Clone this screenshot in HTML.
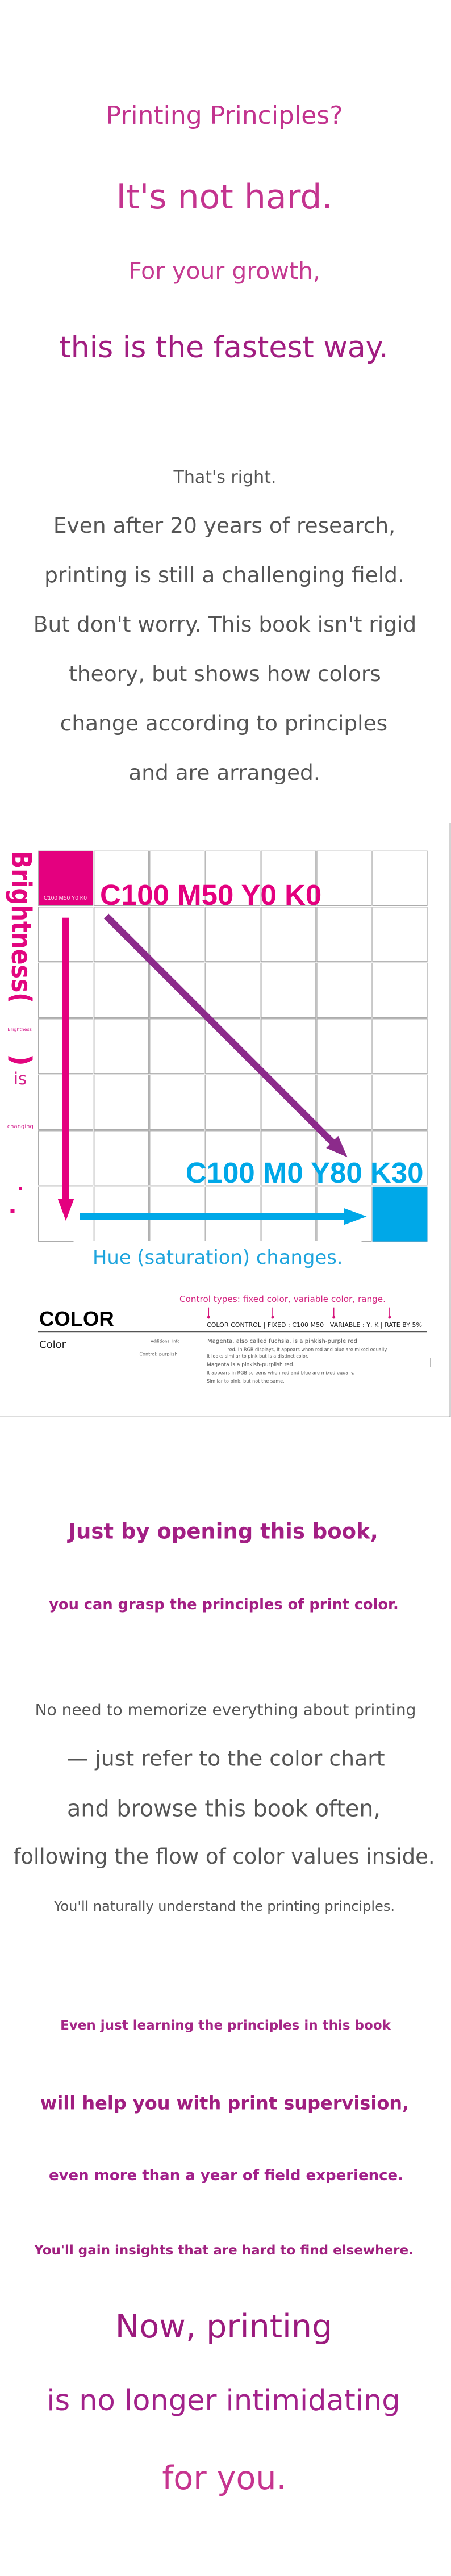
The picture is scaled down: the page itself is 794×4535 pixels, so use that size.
<!DOCTYPE html>
<html>
<head>
<meta charset="utf-8">
<style>
  html, body { margin: 0; padding: 0; background: #ffffff; }
  body { width: 794px; height: 4535px; overflow: hidden; }
  svg { display: block; }
  .dj { font-family: "DejaVu Sans", "Liberation Sans", sans-serif; }
  .lb { font-family: "Liberation Sans", "DejaVu Sans", sans-serif; font-weight: bold; }
</style>
</head>
<body>
<svg width="794" height="4535" viewBox="0 0 794 4535" xmlns="http://www.w3.org/2000/svg">
  <rect x="0" y="0" width="794" height="4535" fill="#ffffff"/>

  <!-- ===== Top headline section ===== -->
  <g class="dj" text-anchor="middle">
    <text x="395" y="218" font-size="44" fill="#c2338e">Printing Principles?</text>
    <text x="395" y="367" font-size="60" fill="#c4348f">It's not hard.</text>
    <text x="395" y="491" font-size="41" fill="#c53a91">For your growth,</text>
    <text x="394" y="629" font-size="52" fill="#a11d80">this is the fastest way.</text>
  </g>

  <!-- ===== Gray intro text ===== -->
  <g class="dj" text-anchor="middle" fill="#555555">
    <text x="396" y="850" font-size="30">That's right.</text>
    <text x="395" y="938" font-size="37.5">Even after 20 years of research,</text>
    <text x="395" y="1025" font-size="37.5">printing is still a challenging field.</text>
    <text x="396" y="1112" font-size="37.5">But don't worry. This book isn't rigid</text>
    <text x="396" y="1199" font-size="37.5">theory, but shows how colors</text>
    <text x="394" y="1286" font-size="37.5">change according to principles</text>
    <text x="395" y="1373" font-size="37.5">and are arranged.</text>
  </g>

  <!-- ===== Chart section ===== -->
  <line x1="0" y1="1448.5" x2="792" y2="1448.5" stroke="#eeeeee" stroke-width="1"/>
  <line x1="0" y1="2493.5" x2="792" y2="2493.5" stroke="#dddddd" stroke-width="1"/>
  <line x1="792.5" y1="1448" x2="792.5" y2="2494" stroke="#555555" stroke-width="1.5"/>

  <!-- grid 7x7 -->
  <g fill="#ffffff" stroke="#a3a3a3" stroke-width="1.2">
    <rect x="67.7" y="1498.3" width="96" height="96" fill="#e4007f"/>
    <rect x="165.75" y="1498.3" width="96" height="96"/>
    <rect x="263.8" y="1498.3" width="96" height="96"/>
    <rect x="361.85" y="1498.3" width="96" height="96"/>
    <rect x="459.9" y="1498.3" width="96" height="96"/>
    <rect x="557.95" y="1498.3" width="96" height="96"/>
    <rect x="656" y="1498.3" width="96" height="96"/>
    <rect x="67.7" y="1596.8" width="96" height="96"/>
    <rect x="165.75" y="1596.8" width="96" height="96"/>
    <rect x="263.8" y="1596.8" width="96" height="96"/>
    <rect x="361.85" y="1596.8" width="96" height="96"/>
    <rect x="459.9" y="1596.8" width="96" height="96"/>
    <rect x="557.95" y="1596.8" width="96" height="96"/>
    <rect x="656" y="1596.8" width="96" height="96"/>
    <rect x="67.7" y="1695.3" width="96" height="96"/>
    <rect x="165.75" y="1695.3" width="96" height="96"/>
    <rect x="263.8" y="1695.3" width="96" height="96"/>
    <rect x="361.85" y="1695.3" width="96" height="96"/>
    <rect x="459.9" y="1695.3" width="96" height="96"/>
    <rect x="557.95" y="1695.3" width="96" height="96"/>
    <rect x="656" y="1695.3" width="96" height="96"/>
    <rect x="67.7" y="1793.8" width="96" height="96"/>
    <rect x="165.75" y="1793.8" width="96" height="96"/>
    <rect x="263.8" y="1793.8" width="96" height="96"/>
    <rect x="361.85" y="1793.8" width="96" height="96"/>
    <rect x="459.9" y="1793.8" width="96" height="96"/>
    <rect x="557.95" y="1793.8" width="96" height="96"/>
    <rect x="656" y="1793.8" width="96" height="96"/>
    <rect x="67.7" y="1892.3" width="96" height="96"/>
    <rect x="165.75" y="1892.3" width="96" height="96"/>
    <rect x="263.8" y="1892.3" width="96" height="96"/>
    <rect x="361.85" y="1892.3" width="96" height="96"/>
    <rect x="459.9" y="1892.3" width="96" height="96"/>
    <rect x="557.95" y="1892.3" width="96" height="96"/>
    <rect x="656" y="1892.3" width="96" height="96"/>
    <rect x="67.7" y="1990.8" width="96" height="96"/>
    <rect x="165.75" y="1990.8" width="96" height="96"/>
    <rect x="263.8" y="1990.8" width="96" height="96"/>
    <rect x="361.85" y="1990.8" width="96" height="96"/>
    <rect x="459.9" y="1990.8" width="96" height="96"/>
    <rect x="557.95" y="1990.8" width="96" height="96"/>
    <rect x="656" y="1990.8" width="96" height="96"/>
    <rect x="67.7" y="2089.3" width="96" height="96"/>
    <rect x="165.75" y="2089.3" width="96" height="96"/>
    <rect x="263.8" y="2089.3" width="96" height="96"/>
    <rect x="361.85" y="2089.3" width="96" height="96"/>
    <rect x="459.9" y="2089.3" width="96" height="96"/>
    <rect x="557.95" y="2089.3" width="96" height="96"/>
    <rect x="656" y="2089.3" width="96" height="96" fill="#00a8e8" stroke="#1b8fc4" stroke-width="1"/>
  </g>

  <!-- white cover hiding bottom grid edge under the caption -->
  <rect x="129.5" y="2184" width="507" height="18" fill="#ffffff"/>

  <!-- small label in magenta cell -->
  <text x="77" y="1584" font-size="10" fill="#fbe3ef" style="font-family:'Liberation Sans','DejaVu Sans',sans-serif">C100 M50 Y0 K0</text>

  <!-- big labels -->
  <text class="lb" x="176" y="1593" font-size="51" fill="#e4007f">C100 M50 Y0 K0</text>
  <text class="lb" x="745.5" y="2082" font-size="51" fill="#00a8e8" text-anchor="end">C100 M0 Y80 K30</text>

  <!-- purple diagonal arrow -->
  <line x1="187" y1="1612.7" x2="587" y2="2012.7" stroke="#8c2b8b" stroke-width="12"/>
  <polygon points="595.4,1999.8 574.2,2021.0 611.7,2037.3" fill="#8c2b8b"/>

  <!-- magenta vertical arrow -->
  <rect x="110" y="1615.7" width="12" height="496" fill="#e4007f"/>
  <polygon points="101.5,2110 130.5,2110 116,2149.3" fill="#e4007f"/>

  <!-- cyan horizontal arrow -->
  <rect x="141" y="2135.7" width="466" height="12" fill="#00a8e8"/>
  <polygon points="605,2126.7 605,2156.5 645.5,2141.7" fill="#00a8e8"/>

  <!-- left vertical label -->
  <text class="dj" transform="translate(21,1498) rotate(90)" x="0" y="0" font-size="48" font-weight="bold" fill="#e2067f" textLength="268" lengthAdjust="spacingAndGlyphs">Brightness(</text>
  <text class="dj" x="13.3" y="1815" font-size="8" fill="#d4238f">Brightness</text>
  <text class="dj" transform="translate(21,1855) rotate(90)" x="0" y="0" font-size="48" font-weight="bold" fill="#e2067f">)</text>
  <text class="dj" x="24" y="1909" font-size="29" fill="#d4208a">is</text>
  <text class="dj" x="12.7" y="1986" font-size="10" fill="#d4238f">changing</text>
  <rect x="33" y="2089" width="6" height="6" fill="#e2067f"/>
  <rect x="18.5" y="2129" width="7" height="7" fill="#e2067f"/>

  <!-- caption -->
  <text class="dj" x="163" y="2225" font-size="33.8" fill="#1ea4dd">Hue (saturation) changes.</text>

  <!-- control legend -->
  <text class="dj" x="316" y="2292" font-size="15.2" fill="#d3237f" textLength="363" lengthAdjust="spacing">Control types: fixed color, variable color, range.</text>
  <g stroke="#d6127a" stroke-width="1.5" fill="#d6127a">
    <line x1="367.3" y1="2301.7" x2="367.3" y2="2318"/>
    <circle cx="367.3" cy="2319" r="2.5" stroke="none"/>
    <line x1="480" y1="2301.7" x2="480" y2="2318"/>
    <circle cx="480" cy="2319" r="2.5" stroke="none"/>
    <line x1="587.7" y1="2301.7" x2="587.7" y2="2318"/>
    <circle cx="587.7" cy="2319" r="2.5" stroke="none"/>
    <line x1="685.9" y1="2301.7" x2="685.9" y2="2318"/>
    <circle cx="685.9" cy="2319" r="2.5" stroke="none"/>
  </g>

  <text class="lb" x="69" y="2334" font-size="36.5" fill="#000000">COLOR</text>
  <text class="dj" x="364" y="2336" font-size="11" fill="#222222" textLength="379" lengthAdjust="spacing">COLOR CONTROL  |  FIXED : C100 M50  |  VARIABLE : Y, K  |  RATE BY 5%</text>
  <line x1="67" y1="2344.5" x2="752" y2="2344.5" stroke="#555555" stroke-width="1.5"/>

  <text class="dj" x="69" y="2373" font-size="18" fill="#222222">Color</text>
  <text class="dj" x="265.3" y="2363.3" font-size="6.6" fill="#555555" textLength="51" lengthAdjust="spacing">Additional Info</text>
  <text class="dj" x="245.4" y="2386.7" font-size="8" fill="#666666" textLength="67" lengthAdjust="spacing">Control: purplish</text>

  <g class="dj" fill="#555555">
    <text x="365" y="2364" font-size="10" textLength="264" lengthAdjust="spacing">Magenta, also called fuchsia, is a pinkish-purple red</text>
    <text x="400.5" y="2378.3" font-size="8" textLength="282" lengthAdjust="spacing">red. In RGB displays, it appears when red and blue are mixed equally.</text>
    <text x="364" y="2390" font-size="8" textLength="179" lengthAdjust="spacing">It looks similar to pink but is a distinct color.</text>
    <text x="364" y="2405" font-size="9" textLength="154.5" lengthAdjust="spacing">Magenta is a pinkish-purplish red.</text>
    <text x="364" y="2419.3" font-size="8" textLength="260" lengthAdjust="spacing">It appears in RGB screens when red and blue are mixed equally.</text>
    <text x="364" y="2434" font-size="8" textLength="136.6" lengthAdjust="spacing">Similar to pink, but not the same.</text>
  </g>
  <line x1="757.5" y1="2390" x2="757.5" y2="2407" stroke="#bbbbbb" stroke-width="1"/>

  <!-- ===== Lower section ===== -->
  <g class="dj" text-anchor="middle" font-weight="bold">
    <text x="393" y="2708.5" font-size="37" fill="#a31f84">Just by opening this book,</text>
    <text x="394" y="2833" font-size="25.7" fill="#a31f84">you can grasp the principles of print color.</text>
  </g>

  <g class="dj" text-anchor="middle" fill="#555555">
    <text x="397" y="3019.6" font-size="28">No need to memorize everything about printing</text>
    <text x="397.5" y="3108.5" font-size="37.8">— just refer to the color chart</text>
    <text x="394" y="3197.5" font-size="39.7">and browse this book often,</text>
    <text x="394.5" y="3281" font-size="37">following the flow of color values inside.</text>
    <text x="395" y="3364" font-size="24">You'll naturally understand the printing principles.</text>
  </g>

  <g class="dj" text-anchor="middle" font-weight="bold">
    <text x="397" y="3573" font-size="23" fill="#a52586">Even just learning the principles in this book</text>
    <text x="395.5" y="3713.7" font-size="32" fill="#a01e80">will help you with print supervision,</text>
    <text x="398" y="3838" font-size="26" fill="#a2208a">even more than a year of field experience.</text>
    <text x="394" y="3969" font-size="23" fill="#a0207f">You'll gain insights that are hard to find elsewhere.</text>
  </g>

  <g class="dj" text-anchor="middle">
    <text x="394" y="4115" font-size="57" fill="#9b1a7d">Now, printing</text>
    <text x="393.5" y="4243" font-size="51" fill="#a3218a">is no longer intimidating</text>
    <text x="395" y="4382" font-size="57" fill="#c6348f">for you.</text>
  </g>
</svg>
</body>
</html>
